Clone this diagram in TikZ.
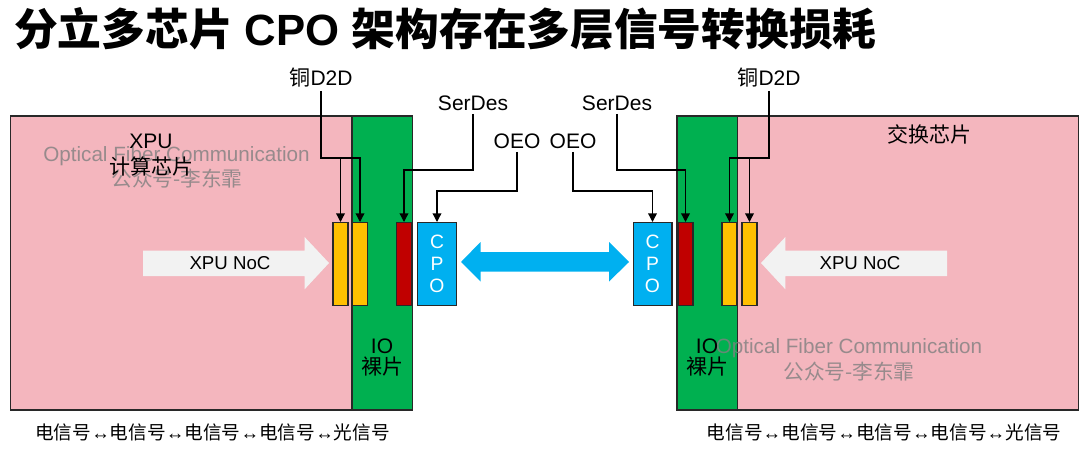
\documentclass[tikz,border=0pt]{standalone}
\usepackage{fontspec}
\setmainfont{Liberation Sans}
\newfontfamily\cjk{Noto Sans CJK SC}
\usepackage{tikz}
\usepackage{xcolor}
\usetikzlibrary{arrows.meta}

\definecolor{diepink}{RGB}{244,182,190}
\definecolor{iogreen}{RGB}{0,176,80}
\definecolor{d2dyellow}{RGB}{255,192,0}
\definecolor{serdesred}{RGB}{192,0,0}
\definecolor{cpoblue}{RGB}{0,176,240}
\definecolor{nocgray}{RGB}{242,242,242}
\definecolor{edge}{RGB}{40,40,40}

\newcommand{\esig}{{\cjk 电信号}}
\newcommand{\osig}{{\cjk 光信号}}

\tikzset{
  die/.style={draw=edge, line width=1.3pt},
  pad/.style={draw=edge, line width=1pt, minimum width=11.4pt, minimum height=62pt, inner sep=0pt},
  lbl/.style={font=\fontsize{15.75}{19.5}\selectfont, inner sep=2pt},
  wmark/.style={text=gray, text opacity=0.8, font=\fontsize{15.5}{17}\selectfont, inner sep=0pt},
}

\begin{document}
\begin{tikzpicture}[x=0.75pt, y=-0.75pt, line width=1pt, >={Triangle[width=6.5pt,length=6.5pt]}]
  \useasboundingbox (0,0) rectangle (1080,450);
  \node (title) [anchor=west, font=\fontsize{32.8}{36}\selectfont\bfseries] at (9,29)
    {{\cjk 分立多芯片} CPO {\cjk 架构存在多层信号转换损耗}};
  \filldraw[die, fill=diepink] (10.5,116) rectangle (352,410);
  \filldraw[die, fill=iogreen] (352,116) rectangle (412.5,410);
  \filldraw[die, fill=iogreen] (677,116) rectangle (737.5,410);
  \filldraw[die, fill=diepink] (737.5,116) rectangle (1078.5,410);
  \fill[nocgray] (143,250.7) -- (304.6,250.7) -- (304.6,237) -- (329,263)
    -- (304.6,289.3) -- (304.6,276) -- (143,276) -- cycle;
  \fill[nocgray] (947,250.7) -- (785.4,250.7) -- (785.4,237) -- (761,263)
    -- (785.4,289.3) -- (785.4,276) -- (947,276) -- cycle;
  \fill[cpoblue] (461,262) -- (480.5,242) -- (480.5,252) -- (609,252) -- (609,242)
    -- (629,262) -- (609,281.5) -- (609,271.5) -- (480.5,271.5) -- (480.5,281.5) -- cycle;
  \node (nocL) [font=\fontsize{14}{16}\selectfont] at (230,263) {XPU NoC};
  \node (nocR) [font=\fontsize{14}{16}\selectfont] at (860,263) {XPU NoC};
  \node (yaL) [pad, fill=d2dyellow] at (340.5,264) {};
  \node (ybL) [pad, fill=d2dyellow] at (360,264) {};
  \node (rdL) [pad, fill=serdesred, minimum width=11pt] at (404,264) {};
  \node (cpoL) [pad, fill=cpoblue, minimum width=29pt, text=white, align=center,
    font=\fontsize{14.5}{16.3}\selectfont] at (437,264) {C\\P\\O};
  \node (cpoR) [pad, fill=cpoblue, minimum width=29pt, text=white, align=center,
    font=\fontsize{14.5}{16.3}\selectfont] at (652.5,264) {C\\P\\O};
  \node (rdR) [pad, fill=serdesred, minimum width=11pt] at (685.5,264) {};
  \node (ybR) [pad, fill=d2dyellow] at (729.5,264) {};
  \node (yaR) [pad, fill=d2dyellow] at (749.5,264) {};
  \node (wmL1) [wmark] at (176.5,156) {Optical Fiber Communication};
  \node (wmL2) [wmark] at (177,179) {\cjk 公众号-李东霏};
  \node (wmR1) [wmark] at (849,348) {Optical Fiber Communication};
  \node (wmR2) [wmark] at (849,372) {\cjk 公众号-李东霏};
  \node (xpu) [lbl, align=center] at (151,155) {XPU\\{\cjk 计算芯片}};
  \node (sw) [lbl] at (929,134) {\cjk 交换芯片};
  \node (ioL) [lbl, align=center, font=\fontsize{15.75}{16}\selectfont] at (382,357.5) {IO\\{\cjk 裸片}};
  \node (ioR) [lbl, align=center, font=\fontsize{15.75}{16}\selectfont] at (707,357.5) {IO\\{\cjk 裸片}};
  \node (d2dL) [lbl] at (321,78) {{\cjk 铜}D2D};
  \node (serL) [lbl] at (473,103) {SerDes};
  \node (oeoL) [lbl] at (517,141) {OEO};
  \node (oeoR) [lbl] at (573,141) {OEO};
  \node (serR) [lbl] at (617,103) {SerDes};
  \node (d2dR) [lbl] at (769,78) {{\cjk 铜}D2D};
  \node (sigL) [font=\fontsize{14}{16}\selectfont] at (212.6,432) {\esig↔\esig↔\esig↔\esig↔\osig};
  \node (sigR) [font=\fontsize{14}{16}\selectfont] at (884,432) {\esig↔\esig↔\esig↔\esig↔\osig};
  \path (node cs:name=ybL,anchor=north) +(0,-64) coordinate (ybLi);
  \path (node cs:name=yaL,anchor=north) +(0,-64) coordinate (yaLi);
  \draw[->] (d2dL.south) |- (ybLi) -- (ybL.north);
  \draw[->] (yaLi) -- (yaL.north);
  \path (node cs:name=rdL,anchor=north) +(0,-52) coordinate (rdLi);
  \draw[->] (serL.south) |- (rdLi) -- (rdL.north);
  \path (node cs:name=cpoL,anchor=north) +(0,-31) coordinate (cpoLi);
  \draw[->] (oeoL.south) |- (cpoLi) -- (cpoL.north);
  \path (node cs:name=cpoR,anchor=north) +(0,-31) coordinate (cpoRi);
  \draw[->] (oeoR.south) |- (cpoRi) -- (cpoR.north);
  \path (node cs:name=rdR,anchor=north) +(0,-52) coordinate (rdRi);
  \draw[->] (serR.south) |- (rdRi) -- (rdR.north);
  \path (node cs:name=ybR,anchor=north) +(0,-64) coordinate (ybRi);
  \path (node cs:name=yaR,anchor=north) +(0,-64) coordinate (yaRi);
  \draw[->] (d2dR.south) |- (ybRi) -- (ybR.north);
  \draw[->] (yaRi) -- (yaR.north);
\end{tikzpicture}
\end{document}
